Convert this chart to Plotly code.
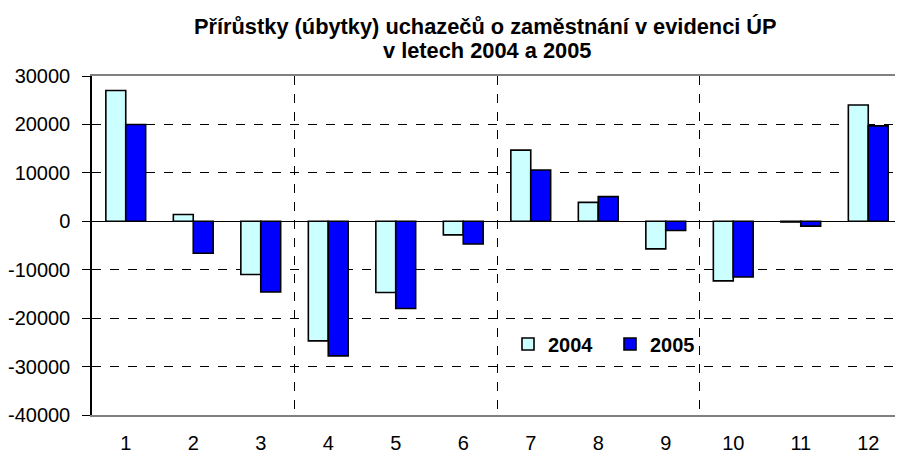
import plotly.graph_objects as go

months = [1, 2, 3, 4, 5, 6, 7, 8, 9, 10, 11, 12]
y2004 = [27000, 1400, -11000, -24700, -14700, -2800, 14700, 3900, -5700, -12300, -150, 24000]
y2005 = [20000, -6600, -14600, -27800, -18000, -4700, 10600, 5100, -1900, -11500, -1000, 19700]
yticks = [-40000, -30000, -20000, -10000, 0, 10000, 20000, 30000]
title_lines = ["Přírůstky (úbytky) uchazečů o zaměstnání v evidenci ÚP", "v letech 2004 a 2005"]

FONT = "Liberation Sans, Arial, sans-serif"
# page body has an 8px margin, so the figure is 895x445 and shifted by 8px
W, H = 895, 445
PLOT_LEFT, PLOT_RIGHT = 84, 894
PLOT_TOP, PLOT_BOTTOM = 68, 407


def paper_y(px):
    return (PLOT_BOTTOM - px) / (PLOT_BOTTOM - PLOT_TOP)


def paper_x(px):
    return (px - PLOT_LEFT) / (PLOT_RIGHT - PLOT_LEFT)


fig = go.Figure()
fig.add_trace(go.Bar(x=months, y=y2004, name="<b>2004</b>",
                     marker=dict(color="#CCFFFF", line=dict(color="black", width=1.6))))
fig.add_trace(go.Bar(x=months, y=y2005, name="<b>2005</b>",
                     marker=dict(color="#0000FF", line=dict(color="black", width=1.6))))

fig.update_layout(
    width=W, height=H,
    margin=dict(l=PLOT_LEFT, r=W - PLOT_RIGHT, t=PLOT_TOP, b=H - PLOT_BOTTOM, autoexpand=False),
    paper_bgcolor="white", plot_bgcolor="white",
    font=dict(family=FONT, size=20, color="black"),
    barmode="group", bargap=0.41, bargroupgap=0,
    legend=dict(orientation="h", x=paper_x(500), y=paper_y(336), xanchor="left", yanchor="middle",
                bgcolor="rgba(0,0,0,0)", font=dict(size=20, family=FONT),
                itemwidth=30, entrywidth=57, entrywidthmode="pixels", traceorder="normal"),
    showlegend=True,
    annotations=[
        dict(text="<b>" + title_lines[0] + "</b>", xref="paper", yref="paper",
             x=paper_x(477), y=paper_y(18.5), xanchor="center", yanchor="middle",
             showarrow=False, font=dict(size=21.8, family=FONT)),
        dict(text="<b>" + title_lines[1] + "</b>", xref="paper", yref="paper",
             x=paper_x(479), y=paper_y(42), xanchor="center", yanchor="middle",
             showarrow=False, font=dict(size=21.8, family=FONT)),
    ],
)

fig.update_xaxes(
    range=[0.5, 12.5], tickmode="array", tickvals=months, ticktext=[str(m) for m in months],
    showgrid=False, showline=True, linecolor="#808080", linewidth=2, mirror=True,
    ticks="", zeroline=False, ticklabelstandoff=9, automargin=False,
    minor=dict(tickmode="linear", tick0=0.5, dtick=3, showgrid=True,
               gridcolor="black", griddash="dash", gridwidth=1, ticks=""),
)
fig.update_yaxes(
    range=[-40000, 30000], tickmode="array", tickvals=yticks,
    ticktext=[str(v) for v in yticks],
    showgrid=True, gridcolor="black", griddash="dash", gridwidth=1,
    showline=True, linecolor="black", linewidth=1.5, ticks="outside", ticklen=8,
    tickcolor="black", zeroline=True, zerolinecolor="black", zerolinewidth=1,
    ticklabelstandoff=8, automargin=False,
)

fig.write_html("out.html")
